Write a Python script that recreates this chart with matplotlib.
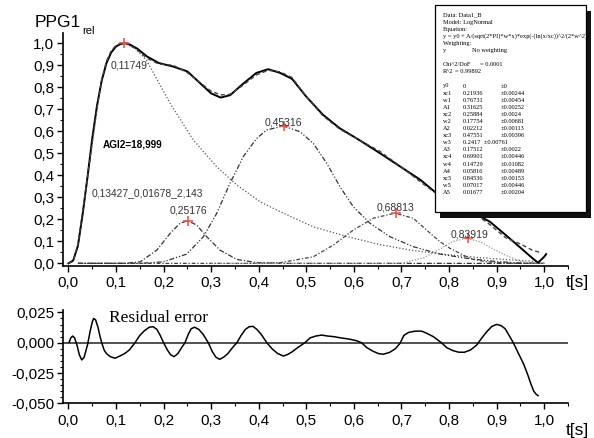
import matplotlib
matplotlib.use("Agg")
import matplotlib.pyplot as plt
from matplotlib.patches import Rectangle
from matplotlib.ticker import MultipleLocator, FuncFormatter, AutoMinorLocator

plt.rcParams['font.family'] = ['Liberation Sans', 'DejaVu Sans']

# measured PPG pulse (solid)
t_data = [0.0, 0.01, 0.02, 0.03, 0.04, 0.05, 0.06, 0.07, 0.08, 0.09, 0.10, 0.11, 0.12, 0.13,
          0.145, 0.165, 0.19, 0.22, 0.25, 0.275, 0.30, 0.32, 0.34, 0.365, 0.395, 0.42, 0.445,
          0.47, 0.50, 0.535, 0.57, 0.61, 0.655, 0.70, 0.74, 0.77, 0.80, 0.83, 0.86, 0.886,
          0.92, 0.95, 0.975, 0.987, 1.0, 1.004]
ppg_data = [0.0, 0.013, 0.08, 0.225, 0.39, 0.565, 0.715, 0.83, 0.91, 0.958, 0.985, 0.997, 1.0, 0.993,
            0.975, 0.94, 0.91, 0.894, 0.872, 0.822, 0.772, 0.753, 0.764, 0.812, 0.865, 0.882, 0.865,
            0.838, 0.757, 0.675, 0.614, 0.562, 0.50, 0.436, 0.379, 0.325, 0.287, 0.252, 0.219, 0.189,
            0.127, 0.071, 0.024, 0.003, 0.03, 0.042]

# LogNormal fit (dashed)
t_fit = [0.0, 0.01, 0.02, 0.03, 0.04, 0.05, 0.06, 0.07, 0.08, 0.09, 0.10, 0.11, 0.12, 0.13,
         0.145, 0.165, 0.19, 0.22, 0.25, 0.275, 0.30, 0.32, 0.34, 0.365, 0.395, 0.42, 0.445,
         0.47, 0.50, 0.535, 0.57, 0.61, 0.655, 0.70, 0.74, 0.77, 0.80, 0.83, 0.86, 0.88,
         0.92, 0.95, 0.975, 0.99]
ppg_fit = [0.0, 0.010, 0.085, 0.238, 0.392, 0.545, 0.702, 0.835, 0.918, 0.966, 0.99, 1.0, 1.0, 0.99,
           0.968, 0.932, 0.905, 0.9, 0.866, 0.824, 0.782, 0.765, 0.768, 0.806, 0.856, 0.877, 0.87,
           0.844, 0.757, 0.67, 0.61, 0.562, 0.508, 0.437, 0.37, 0.322, 0.293, 0.256, 0.215, 0.186,
           0.115, 0.088, 0.06, 0.05]

# fitted components
t_c1 = [0.0, 0.01, 0.02, 0.03, 0.04, 0.05, 0.06, 0.07, 0.08, 0.09, 0.10, 0.1175, 0.14, 0.165, 0.19,
        0.2137, 0.2626, 0.3117, 0.3538, 0.4027, 0.4447, 0.5147, 0.585, 0.655, 0.725, 0.795, 0.87,
        0.95, 0.99]
c1 = [0.0, 0.010, 0.08, 0.225, 0.39, 0.56, 0.71, 0.83, 0.91, 0.96, 0.988, 1.0, 0.978, 0.92, 0.82,
      0.727, 0.56, 0.439, 0.356, 0.28, 0.235, 0.166, 0.122, 0.085, 0.058, 0.04, 0.025,
      0.013, 0.008]

t_c2 = [0.02, 0.12, 0.151, 0.1857, 0.2137, 0.2347, 0.2508, 0.2697, 0.2907, 0.3187, 0.3538, 0.396, 0.45, 1.0]
c2 = [0.0, 0.0, 0.007, 0.06, 0.136, 0.182, 0.194, 0.174, 0.121, 0.06, 0.018, 0.003, 0.0, 0.0]

t_c3 = [0.02, 0.15, 0.1996, 0.2487, 0.2836, 0.3117, 0.3397, 0.3676, 0.3958, 0.4168, 0.4517, 0.4868,
        0.5147, 0.5428, 0.5708, 0.5987, 0.6338, 0.6758, 0.7248, 0.7809, 0.837, 0.90, 0.949, 1.0]
c3 = [0.0, 0.0, 0.007, 0.042, 0.121, 0.227, 0.364, 0.485, 0.568, 0.606, 0.624, 0.598,
      0.545, 0.455, 0.348, 0.257, 0.182, 0.121, 0.076, 0.042, 0.023, 0.008, 0.002, 0.0]

t_c4 = [0.02, 0.40, 0.4447, 0.5147, 0.5567, 0.5987, 0.6408, 0.6863, 0.7248, 0.753, 0.78, 0.802, 0.837,
        0.851, 0.879, 0.93, 1.0]
c4 = [0.0, 0.0, 0.003, 0.03, 0.083, 0.151, 0.205, 0.228, 0.205, 0.151, 0.1, 0.068, 0.03,
      0.018, 0.007, 0.0, 0.0]

t_c5 = [0.30, 0.70, 0.746, 0.781, 0.809, 0.837, 0.865, 0.893, 0.921, 0.95, 0.97, 1.0]
c5 = [0.0, 0.0, 0.025, 0.065, 0.10, 0.114, 0.098, 0.065, 0.035, 0.01, 0.0, 0.0]

# component peaks
peak_t = [0.11749, 0.25176, 0.45316, 0.68813, 0.83919]
peak_v = [1.0, 0.194, 0.624, 0.228, 0.114]
peak_labels = ['0,11749', '0,25176', '0,45316', '0,68813', '0,83919']
label_pos = [(0.088, 0.897), (0.212, 0.242), (0.4126, 0.639), (0.648, 0.255), (0.803, 0.133)]

# residual error
t_res = [0.0015, 0.005, 0.009, 0.013, 0.018, 0.023, 0.028, 0.033, 0.04, 0.046,
         0.05, 0.053, 0.057, 0.062, 0.066, 0.070, 0.075, 0.08, 0.088, 0.098,
         0.108, 0.118, 0.128, 0.14, 0.15, 0.16, 0.17, 0.178, 0.186, 0.193,
         0.20, 0.208, 0.215, 0.222, 0.23, 0.238, 0.245, 0.252, 0.258, 0.265,
         0.274, 0.283, 0.294, 0.302, 0.31, 0.318, 0.326, 0.335, 0.345, 0.354,
         0.363, 0.372, 0.38, 0.388, 0.396, 0.405, 0.417, 0.428, 0.44, 0.452,
         0.462, 0.472, 0.482, 0.497, 0.508, 0.52, 0.532, 0.545, 0.558, 0.572,
         0.59, 0.606, 0.616, 0.627, 0.64, 0.652, 0.662, 0.675, 0.687, 0.697,
         0.705, 0.715, 0.728, 0.742, 0.752, 0.767, 0.784, 0.795, 0.808, 0.82,
         0.832, 0.845, 0.858, 0.869, 0.879, 0.89, 0.90, 0.91, 0.918, 0.924,
         0.935, 0.946, 0.956, 0.965, 0.972, 0.978, 0.983, 0.987]
res = [0.0003, 0.004, 0.0055, 0.004, -0.002, -0.010, -0.0142, -0.012, -0.002, 0.010,
       0.017, 0.020, 0.019, 0.013, 0.006, 0.0, -0.006, -0.009, -0.0115, -0.0128,
       -0.011, -0.009, -0.006, 0.0, 0.006, 0.010, 0.0128, 0.0132, 0.011, 0.006,
       0.0, -0.006, -0.010, -0.0115, -0.009, -0.004, 0.0, 0.007, 0.0115, 0.0128,
       0.011, 0.007, 0.0, -0.007, -0.012, -0.0137, -0.012, -0.009, -0.004, 0.0,
       0.006, 0.011, 0.0132, 0.0135, 0.011, 0.007, 0.0, -0.005, -0.009, -0.011,
       -0.0095, -0.007, -0.004, 0.0, 0.004, 0.0055, 0.0063, 0.0055, 0.005, 0.004,
       0.003, 0.0016, 0.0, -0.004, -0.007, -0.009, -0.0095, -0.008, -0.005, -0.0005,
       0.006, 0.0085, 0.0095, 0.0096, 0.008, 0.005, 0.0, -0.004, -0.0065, -0.0078,
       -0.0079, -0.006, -0.002, 0.004, 0.009, 0.0135, 0.0151, 0.014, 0.0115, 0.0075,
       0.0, -0.009, -0.0169, -0.026, -0.034, -0.040, -0.0425, -0.0437]

# (label, value, error, value column x in px)
fit_report = [
    ("Data: Data1_B", "", "", 0),
    ("Model: LogNormal", "", "", 0),
    ("Equation:", "", "", 0),
    ("y = y0 + A/(sqrt(2*PI)*w*x)*exp(-(ln(x/xc))^2/(2*w^2))", "", "", 0),
    ("Weighting:", "", "", 0),
    ("y", "No weighting", "", 472),
    ("", "", "", 0),
    ("Chi^2/DoF", "= 0.0001", "", 480),
    ("R^2", "= 0.99892", "", 455),
    ("", "", "", 0),
    ("y0", "0", "\u00b10", 463),
    ("xc1", "0.21936", "\u00b10.00244", 463),
    ("w1", "0.76731", "\u00b10.00454", 463),
    ("A1", "0.31625", "\u00b10.00252", 463),
    ("xc2", "0.25884", "\u00b10.0024", 463),
    ("w2", "0.17754", "\u00b10.00681", 463),
    ("A2", "0.02212", "\u00b10.00113", 463),
    ("xc3", "0.47551", "\u00b10.00396", 463),
    ("w3", "0.2417  \u00b10.00761", "", 463),
    ("A3", "0.17512", "\u00b10.0022", 463),
    ("xc4", "0.69901", "\u00b10.00446", 463),
    ("w4", "0.14729", "\u00b10.01082", 463),
    ("A4", "0.05816", "\u00b10.00489", 463),
    ("xc5", "0.84536", "\u00b10.00153", 463),
    ("w5", "0.07017", "\u00b10.00446", 463),
    ("A5", "0.01677", "\u00b10.00204", 463),
]

W, H = 594, 438
fig = plt.figure(figsize=(W / 100, H / 100), dpi=100)


def px_rect(x0, y0, x1, y1):
    return [x0 / W, 1 - y1 / H, (x1 - x0) / W, (y1 - y0) / H]


ax = fig.add_axes(px_rect(62.7, 33.3, 568, 266))
ax2 = fig.add_axes(px_rect(62.7, 310, 568, 403.3))

# top panel
ax.plot(t_c1, c1, color='#555555', lw=0.9, linestyle=(0, (1, 1.6)))
ax.plot(t_c2, c2, color='#333333', lw=0.9, linestyle=(0, (4, 1.5, 1, 1.5)))
ax.plot(t_c3, c3, color='#333333', lw=0.9, linestyle=(0, (4, 1.5, 1, 1.5, 1, 1.5)))
ax.plot(t_c4, c4, color='#444444', lw=0.9, linestyle=(0, (3, 1.5, 1, 1.5)))
ax.plot(t_c5, c5, color='#9a9a9a', lw=0.9, linestyle=(0, (1, 1.3)))
ax.plot(t_data, ppg_data, color='black', lw=1.4)
ax.plot(t_fit, ppg_fit, color='#444444', lw=1.0, linestyle=(0, (3, 2)))
ax.plot(peak_t, peak_v, linestyle='none', marker='+', color='#f04a3c', markersize=7, mew=1.1)

for lab, (lx, ly) in zip(peak_labels, label_pos):
    ax.text(lx, ly, lab, fontsize=7.5, color='#333333', ha='left', va='center')
ax.text(0.072, 0.541, 'AGI2=18,999', fontsize=7.2, fontweight='bold', ha='left', va='center')
ax.text(0.049, 0.321, '0,13427_0,01678_2,143', fontsize=7.4, color='#333333', ha='left', va='center')

ax.set_xlim(-0.012, 1.05)
ax.set_ylim(-0.012, 1.045)
ax.yaxis.set_major_locator(MultipleLocator(0.1))
ax.yaxis.set_minor_locator(MultipleLocator(0.05))
ax.yaxis.set_major_formatter(FuncFormatter(lambda v, p: f"{v:.1f}".replace('.', ',')))

# residual panel
ax2.axhline(0, color='#333333', lw=1.2)
ax2.plot(t_res, res, color='black', lw=1.1)
ax2.text(0.086, 0.020, 'Residual error', fontsize=12.5, family=['Liberation Serif', 'DejaVu Serif'],
         ha='left', va='center')
ax2.set_xlim(-0.012, 1.05)
ax2.set_ylim(-0.05, 0.027)
ax2.yaxis.set_major_locator(MultipleLocator(0.025))
ax2.yaxis.set_minor_locator(AutoMinorLocator(5))
ax2.yaxis.set_major_formatter(FuncFormatter(
    lambda v, p: f"{0 if abs(v) < 1e-9 else v:.3f}".replace('.', ',')))

for a in (ax, ax2):
    a.spines['top'].set_visible(False)
    a.spines['right'].set_visible(False)
    a.spines['left'].set_linewidth(1.2)
    a.spines['bottom'].set_linewidth(1.2)
    a.xaxis.set_major_locator(MultipleLocator(0.1))
    a.xaxis.set_minor_locator(MultipleLocator(0.05))
    a.xaxis.set_major_formatter(FuncFormatter(lambda v, p: f"{v:.1f}".replace('.', ',')))
    a.tick_params(which='major', direction='out', length=4.5, width=1, labelsize=11)
    a.tick_params(which='minor', direction='out', length=2.5, width=0.8)
    a.tick_params(axis='y', pad=1.5)
    a.tick_params(axis='x', pad=3)

# axis captions
fig.text(35 / W, 1 - 27 / H, 'PPG1', fontsize=12.5, ha='left', va='baseline')
fig.text(82 / W, 1 - 34 / H, 'rel', fontsize=8, ha='left', va='baseline')
fig.text(566 / W, 1 - 282 / H, 't[s]', fontsize=12.5, ha='left', va='center')
fig.text(566 / W, 1 - 430 / H, 't[s]', fontsize=12.5, ha='left', va='center')

# fit report box with shadow
bx0, by0, bx1, by1 = 435, 5, 586, 212
fig.add_artist(Rectangle(((bx0 + 5) / W, 1 - (by1 + 6) / H), (bx1 - bx0) / W, (by1 - by0) / H,
                         transform=fig.transFigure, facecolor='#111111', edgecolor='none', zorder=5))
fig.add_artist(Rectangle((bx0 / W, 1 - by1 / H), (bx1 - bx0) / W, (by1 - by0) / H,
                         transform=fig.transFigure, facecolor='white', edgecolor='black', lw=0.9, zorder=6))
serif = ['Liberation Serif', 'DejaVu Serif']
for i, (name, val, err, vx) in enumerate(fit_report):
    y = 1 - (15 + i * 7.1) / H
    if name:
        fig.text(443 / W, y, name, fontsize=4.6, family=serif, va='center', zorder=7)
    if val:
        fig.text(vx / W, y, val, fontsize=4.6, family=serif, va='center', zorder=7)
    if err:
        fig.text(501 / W, y, err, fontsize=4.6, family=serif, va='center', zorder=7)

fig.savefig('out.png', dpi=100)
